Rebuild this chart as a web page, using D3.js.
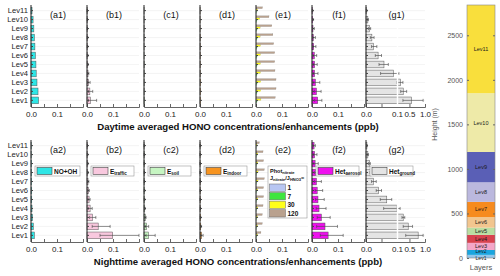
<!DOCTYPE html>
<html>
<head>
<meta charset="utf-8">
<script src="https://cdn.jsdelivr.net/npm/d3@7"></script>
<style>
  body { margin: 0; background: #fff; }
  svg { font-family: "Liberation Sans", Arial, sans-serif; }
</style>
</head>
<body>
<svg width="500" height="276"></svg>
<script>
const levels = ["Lev1", "Lev2", "Lev3", "Lev4", "Lev5", "Lev6", "Lev7", "Lev8", "Lev9", "Lev10", "Lev11"];

// daytime, Lev1 -> Lev11
const noOhDay = [0.029, 0.027, 0.023, 0.020, 0.019, 0.017, 0.015, 0.013, 0.011, 0.008, 0.004];
const trafficDay = [0.013, 0.011, 0.006, 0.004, 0.003, 0.002, 0.002, 0.002, 0.001, 0.001, 0.001];
const trafficDayLo = [0.006, 0.006, 0.003, 0.002, 0.002, 0.001, 0.001, 0.001, 0.001, 0.001, 0.001];
const trafficDayHi = [0.037, 0.022, 0.012, 0.007, 0.005, 0.004, 0.003, 0.003, 0.002, 0.002, 0.001];
const soilDay = [0.002, 0.001, 0.001, 0.001, 0.001, 0.0005, 0.0005, 0.0005, 0.0005, 0.0005, 0.0005];
const indoorDay = [0.002, 0.002, 0.002, 0.001, 0.001, 0.001, 0.001, 0.001, 0.0005, 0.0005, 0.0005];
const phot1Day = [0.001, 0.001, 0.001, 0.001, 0.001, 0.001, 0.001, 0.001, 0.001, 0.001, 0.0005];
const phot7Day = [0.004, 0.004, 0.004, 0.004, 0.004, 0.004, 0.004, 0.004, 0.004, 0.003, 0.002];
const phot30Day = [0.019, 0.018, 0.018, 0.017, 0.017, 0.017, 0.017, 0.016, 0.016, 0.014, 0.006];
const phot120Day = [0.074, 0.077, 0.077, 0.073, 0.072, 0.072, 0.068, 0.065, 0.061, 0.050, 0.025];
const aerosolDay = [0.022, 0.017, 0.013, 0.010, 0.010, 0.009, 0.0064, 0.005, 0.0038, 0.0026, 0.0013];
const aerosolDayLo = [0.010, 0.009, 0.007, 0.006, 0.006, 0.005, 0.004, 0.003, 0.002, 0.002, 0.001];
const aerosolDayHi = [0.038, 0.035, 0.030, 0.023, 0.020, 0.018, 0.015, 0.013, 0.009, 0.006, 0.003];
const groundDay = [0.57, 0.30, 0.22, 0.088, 0.058, 0.039, 0.024, 0.019, 0.011, 0.006, 0.002];
const groundDayLo = [0.29, 0.22, 0.10, 0.047, 0.042, 0.030, 0.018, 0.014, 0.008, 0.004, 0.001];
const groundDayHi = [0.94, 0.41, 0.29, 0.16, 0.072, 0.050, 0.035, 0.026, 0.015, 0.008, 0.003];

// nighttime, Lev1 -> Lev11
const noOhNight = [0.013, 0.009, 0.006, 0.004, 0.003, 0.003, 0.002, 0.002, 0.002, 0.001, 0.001];
const trafficNight = [0.099, 0.043, 0.021, 0.012, 0.008, 0.006, 0.004, 0.003, 0.003, 0.002, 0.002];
const trafficNightLo = [0.050, 0.020, 0.010, 0.005, 0.004, 0.003, 0.002, 0.002, 0.002, 0.001, 0.001];
const trafficNightHi = [0.200, 0.089, 0.034, 0.020, 0.012, 0.009, 0.007, 0.005, 0.004, 0.003, 0.002];
const soilNight = [0.017, 0.010, 0.005, 0.003, 0.002, 0.002, 0.001, 0.001, 0.001, 0.001, 0.0005];
const soilNightLo = [0.008, 0.005, 0.003, 0.002, 0.001, 0.001, 0.001, 0.001, 0.001, 0.001, 0.0005];
const soilNightHi = [0.043, 0.018, 0.008, 0.005, 0.003, 0.003, 0.002, 0.002, 0.001, 0.001, 0.001];
const indoorNight = [0.006, 0.003, 0.002, 0.001, 0.001, 0.001, 0.001, 0.0005, 0.0005, 0.0005, 0.0005];
const indoorNightLo = [0.003, 0.002, 0.001, 0.001, 0.001, 0.001, 0.001, 0.0005, 0.0005, 0.0005, 0.0005];
const indoorNightHi = [0.012, 0.006, 0.003, 0.002, 0.001, 0.001, 0.001, 0.0005, 0.0005, 0.0005, 0.0005];
const phot1Night = [0.0005, 0.0005, 0.0005, 0.0005, 0.0005, 0.0005, 0.0005, 0.0005, 0.0005, 0.0005, 0.0005];
const phot7Night = [0.002, 0.002, 0.002, 0.002, 0.002, 0.002, 0.002, 0.002, 0.002, 0.002, 0.001];
const phot30Night = [0.006, 0.006, 0.006, 0.007, 0.007, 0.007, 0.008, 0.008, 0.007, 0.007, 0.004];
const phot120Night = [0.019, 0.024, 0.024, 0.027, 0.029, 0.029, 0.032, 0.032, 0.029, 0.027, 0.013];
const aerosolNight = [0.062, 0.050, 0.036, 0.027, 0.023, 0.020, 0.017, 0.014, 0.012, 0.010, 0.008];
const aerosolNightLo = [0.032, 0.018, 0.020, 0.016, 0.014, 0.012, 0.010, 0.009, 0.007, 0.006, 0.005];
const aerosolNightHi = [0.120, 0.098, 0.070, 0.054, 0.047, 0.041, 0.036, 0.030, 0.024, 0.019, 0.013];
const groundNight = [0.78, 0.46, 0.30, 0.10, 0.067, 0.041, 0.024, 0.017, 0.011, 0.006, 0.003];
const groundNightLo = [0.38, 0.30, 0.26, 0.057, 0.046, 0.033, 0.018, 0.013, 0.008, 0.004, 0.002];
const groundNightHi = [0.94, 0.60, 0.35, 0.20, 0.083, 0.050, 0.033, 0.022, 0.014, 0.008, 0.004];

// layer heights (m), bottom of Lev1 .. top of Lev11
const layerBounds = [0, 35, 90, 170, 260, 340, 460, 630, 850, 1190, 1850, 2840];
const layerColors = ["#93c6ea", "#1aa5df", "#f4a6c8", "#d8424f", "#b9dea2", "#f2c68f",
                     "#f68b1f", "#bbb8de", "#5a5fb6", "#eeeaa8", "#f9df3c"];
const heightTicks = [0, 500, 1000, 1500, 2000, 2500];

const photRatios = ["1", "7", "30", "120"];
const photColors = ["#b8c6f2", "#3ee63e", "#ffff1a", "#b9a18e"];

const svg = d3.select("svg");

const panelX = [31, 87, 144, 200, 256, 312, 366];
const rowTop = [0, 135];

const days = [
  {tag: "a1", vals: noOhDay, color: "#2ee5e5"},
  {tag: "b1", vals: trafficDay, lo: trafficDayLo, hi: trafficDayHi, color: "#f8c8de"},
  {tag: "c1", vals: soilDay, color: "#c6f5c2"},
  {tag: "d1", vals: indoorDay, color: "#f79420"},
  {tag: "e1", phot: [phot1Day, phot7Day, phot30Day, phot120Day]},
  {tag: "f1", vals: aerosolDay, lo: aerosolDayLo, hi: aerosolDayHi, color: "#ee10ee"},
  {tag: "g1", vals: groundDay, lo: groundDayLo, hi: groundDayHi, color: "#e4e4e4", broken: true}
];
const nights = [
  {tag: "a2", vals: noOhNight, color: "#2ee5e5", legend: ["NO+OH"]},
  {tag: "b2", vals: trafficNight, lo: trafficNightLo, hi: trafficNightHi, color: "#f8c8de", legend: ["E", "traffic"]},
  {tag: "c2", vals: soilNight, lo: soilNightLo, hi: soilNightHi, color: "#c6f5c2", legend: ["E", "soil"]},
  {tag: "d2", vals: indoorNight, lo: indoorNightLo, hi: indoorNightHi, color: "#f79420", legend: ["E", "indoor"]},
  {tag: "e2", phot: [phot1Night, phot7Night, phot30Night, phot120Night], photLegend: true},
  {tag: "f2", vals: aerosolNight, lo: aerosolNightLo, hi: aerosolNightHi, color: "#ee10ee", legend: ["Het", "aerosol"]},
  {tag: "g2", vals: groundNight, lo: groundNightLo, hi: groundNightHi, color: "#e4e4e4", broken: true, legend: ["Het", "ground"]}
];

function drawPanel(p, x0, top) {
  const g = svg.append("g");
  const x = p.broken
    ? d3.scaleLinear().domain([0, 0.1, 1.0]).range([x0, x0 + 31, x0 + 59])
    : d3.scaleLinear().domain([0, 0.2]).range([x0, x0 + 52]);
  const y = d3.scaleBand().domain(levels.slice().reverse())
    .range([top + 5, top + 106]).paddingInner(0.25).paddingOuter(0.25);
  const xEnd = x.range()[x.range().length - 1];

  // faint grid
  g.append("g").selectAll("line").data(levels).join("line")
    .attr("x1", x0).attr("x2", xEnd)
    .attr("y1", d => y(d) + y.bandwidth() / 2).attr("y2", d => y(d) + y.bandwidth() / 2)
    .attr("stroke", "#ececec").attr("stroke-width", 0.6);

  if (p.phot) {
    const sub = d3.scaleBand().domain(photRatios.slice().reverse()).range([0, y.bandwidth() + 1]).padding(0.05);
    p.phot.forEach((series, k) => {
      g.append("g").selectAll("rect").data(series).join("rect")
        .attr("x", x(0))
        .attr("y", (d, i) => y(levels[i]) - 0.5 + sub(photRatios[k]))
        .attr("width", d => x(d) - x(0))
        .attr("height", sub.bandwidth())
        .attr("fill", photColors[k]).attr("stroke", "#777").attr("stroke-width", 0.2);
    });
  } else {
    g.append("g").selectAll("rect").data(p.vals).join("rect")
      .attr("x", x(0))
      .attr("y", (d, i) => y(levels[i]))
      .attr("width", d => x(d) - x(0))
      .attr("height", y.bandwidth())
      .attr("fill", p.color).attr("stroke", "#555").attr("stroke-width", 0.5);
  }

  if (p.lo) {
    const eg = g.append("g").attr("stroke", "#444").attr("stroke-width", 0.6);
    const cy = i => y(levels[i]) + y.bandwidth() / 2;
    eg.selectAll(".eb").data(p.vals).join("line")
      .attr("x1", (d, i) => x(p.lo[i])).attr("x2", (d, i) => x(p.hi[i]))
      .attr("y1", (d, i) => cy(i)).attr("y2", (d, i) => cy(i));
    eg.selectAll(".ch").data(p.vals).join("line")
      .attr("x1", (d, i) => x(p.hi[i])).attr("x2", (d, i) => x(p.hi[i]))
      .attr("y1", (d, i) => cy(i) - 1.5).attr("y2", (d, i) => cy(i) + 1.5);
    eg.selectAll(".cl").data(p.vals).join("line")
      .attr("x1", (d, i) => x(p.lo[i])).attr("x2", (d, i) => x(p.lo[i]))
      .attr("y1", (d, i) => cy(i) - 1.5).attr("y2", (d, i) => cy(i) + 1.5);
  }

  // bottom axis
  const xAxis = d3.axisBottom(x).tickSize(-3).tickPadding(4);
  if (p.broken) {
    xAxis.tickValues([0, 0.05, 0.1, 0.5, 1.0]).tickFormat(d => d === 0.05 ? "" : d3.format(".1f")(d));
  } else {
    xAxis.tickValues([0, 0.05, 0.1, 0.15, 0.2]).tickFormat(d => (d === 0 || d === 0.1) ? d3.format(".1f")(d) : "");
  }
  const ax = g.append("g").attr("transform", `translate(0,${top + 107})`).call(xAxis);
  ax.select(".domain").attr("stroke", "#666");
  ax.selectAll(".tick line").attr("stroke", "#666");
  ax.selectAll("text").attr("font-size", 8).attr("fill", "#222").attr("font-family", null);

  if (p.broken) {
    g.append("line").attr("x1", x(0.1) + 0.5).attr("x2", x(0.1) + 0.5)
      .attr("y1", top + 5).attr("y2", top + 107)
      .attr("stroke", "#fff").attr("stroke-width", 1.5);
  }

  // left axis
  const yAxis = d3.axisLeft(y).tickSize(-2).tickPadding(3).tickSizeOuter(0);
  if (p.tag[0] !== "a") yAxis.tickFormat("");
  const ay = g.append("g").attr("transform", `translate(${x0},0)`).call(yAxis);
  ay.select(".domain").attr("d", `M0,${top + 5}V${top + 107}`).attr("stroke", "#222");
  ay.selectAll(".tick line").attr("stroke", "#444");
  ay.selectAll("text").attr("font-size", 7.6).attr("fill", "#222").attr("font-family", null);

  // panel tag
  g.append("text").attr("x", (x0 + xEnd) / 2 + 1).attr("y", top + 18)
    .attr("text-anchor", "middle").attr("font-size", 9).attr("fill", "#111")
    .text(`(${p.tag})`);

  if (p.legend) {
    const lw = p.legend.length > 1 ? 43 : 45;
    const lx = x0 + 4;
    const ly = top + 31;
    g.append("rect").attr("x", lx).attr("y", ly).attr("width", lw).attr("height", 10)
      .attr("fill", "#fff").attr("stroke", "#999").attr("stroke-width", 0.6);
    g.append("rect").attr("x", lx + 2).attr("y", ly + 1.5).attr("width", 15).attr("height", 7)
      .attr("fill", p.color).attr("stroke", "#444").attr("stroke-width", 0.6);
    const t = g.append("text").attr("x", lx + 19).attr("y", ly + 7.5)
      .attr("font-size", 6.5).attr("font-weight", "bold").attr("fill", "#111");
    t.append("tspan").text(p.legend[0]);
    if (p.legend[1]) t.append("tspan").attr("font-size", 4.5).attr("dy", 1.5).text(p.legend[1]);
  }

  if (p.photLegend) {
    const lx = x0 + 12, ly = top + 31;
    g.append("rect").attr("x", lx).attr("y", ly).attr("width", 39).attr("height", 52)
      .attr("fill", "#fff").attr("stroke", "#999").attr("stroke-width", 0.6);
    const t1 = g.append("text").attr("x", lx + 2).attr("y", ly + 7)
      .attr("font-size", 5.5).attr("font-weight", "bold").attr("fill", "#111");
    t1.append("tspan").text("Phot");
    t1.append("tspan").attr("font-size", 4).attr("dy", 1.2).text("nitrate");
    const t2 = g.append("text").attr("x", lx + 2).attr("y", ly + 14)
      .attr("font-size", 5.5).attr("font-weight", "bold").attr("fill", "#111");
    t2.append("tspan").text("J");
    t2.append("tspan").attr("font-size", 4).attr("dy", 1.2).text("nitrate");
    t2.append("tspan").attr("dy", -1.2).text("/J");
    t2.append("tspan").attr("font-size", 4).attr("dy", 1.2).text("HNO3");
    t2.append("tspan").attr("dy", -1.2).text("=");
    const rowY = d3.scaleBand().domain(photRatios).range([ly + 18, ly + 51]).paddingInner(0.15);
    g.append("g").selectAll("rect").data(photRatios).join("rect")
      .attr("x", lx + 1.5).attr("y", d => rowY(d)).attr("width", 16).attr("height", rowY.bandwidth())
      .attr("fill", (d, i) => photColors[i]).attr("stroke", "#666").attr("stroke-width", 0.5);
    g.append("g").selectAll("text").data(photRatios).join("text")
      .attr("x", lx + 19.5).attr("y", d => rowY(d) + rowY.bandwidth() / 2 + 2.3)
      .attr("font-size", 6.5).attr("font-weight", "bold").attr("fill", "#111")
      .text(d => d);
  }
}

days.forEach((p, i) => drawPanel(p, panelX[i], rowTop[0]));
nights.forEach((p, i) => drawPanel(p, panelX[i], rowTop[1]));

svg.append("text").attr("x", 238).attr("y", 130).attr("text-anchor", "middle")
  .attr("font-size", 9.6).attr("font-weight", "bold").attr("fill", "#111")
  .text("Daytime averaged HONO concentrations/enhancements (ppb)");
svg.append("text").attr("x", 238).attr("y", 265).attr("text-anchor", "middle")
  .attr("font-size", 9.6).attr("font-weight", "bold").attr("fill", "#111")
  .text("Nighttime averaged HONO concentrations/enhancements (ppb)");

// layers column
const hy = d3.scaleLinear().domain([0, 2840]).range([258, 5]);
const colX0 = 467, colX1 = 495;
const lg = svg.append("g");
lg.selectAll("rect").data(levels).join("rect")
  .attr("x", colX0).attr("width", colX1 - colX0)
  .attr("y", (d, i) => hy(layerBounds[i + 1]))
  .attr("height", (d, i) => hy(layerBounds[i]) - hy(layerBounds[i + 1]))
  .attr("fill", (d, i) => layerColors[i]);
lg.append("rect").attr("x", colX0).attr("y", hy(2840)).attr("width", colX1 - colX0)
  .attr("height", hy(0) - hy(2840)).attr("fill", "none").attr("stroke", "#888").attr("stroke-width", 0.6);
lg.selectAll(".lab").data(levels).join("text")
  .attr("x", (colX0 + colX1) / 2)
  .attr("y", (d, i) => {
    const mid = (hy(layerBounds[i]) + hy(layerBounds[i + 1])) / 2 + 2;
    return i === 0 ? mid + 1.5 : i === 1 ? mid - 1 : mid;
  })
  .attr("text-anchor", "middle").attr("font-size", (d, i) => i < 2 ? 5 : 5.5).attr("fill", "#1a1a1a")
  .text(d => d);

const hAxis = d3.axisLeft(hy).tickValues(heightTicks).tickSize(-2).tickPadding(4).tickFormat(d3.format("d"));
const ha = svg.append("g").attr("transform", `translate(${colX0},0)`).call(hAxis);
ha.select(".domain").remove();
ha.selectAll(".tick line").attr("stroke", "#666");
ha.selectAll("text").attr("font-size", 7).attr("fill", "#555").attr("font-family", null);
const hAxisR = d3.axisRight(hy).tickValues(heightTicks).tickSize(-2).tickFormat("");
const har = svg.append("g").attr("transform", `translate(${colX1},0)`).call(hAxisR);
har.select(".domain").remove();
har.selectAll(".tick line").attr("stroke", "#666");

svg.append("text").attr("transform", `translate(437,${hy(1500)}) rotate(-90)`)
  .attr("text-anchor", "middle").attr("font-size", 7).attr("fill", "#555")
  .text("Height (m)");
svg.append("text").attr("x", (colX0 + colX1) / 2).attr("y", 270)
  .attr("text-anchor", "middle").attr("font-size", 7.5).attr("fill", "#555")
  .text("Layers");
</script>
</body>
</html>
